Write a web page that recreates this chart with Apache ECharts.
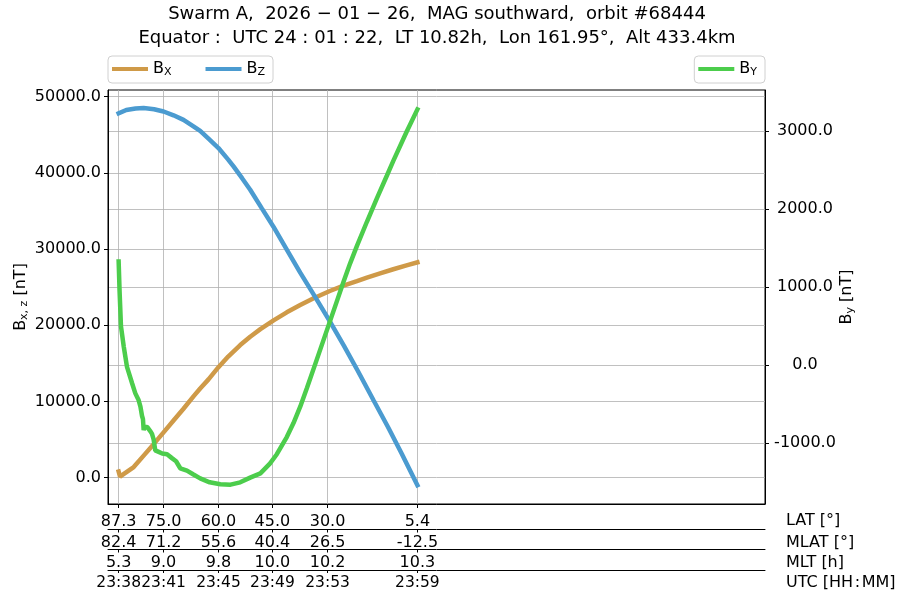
<!DOCTYPE html>
<html><head><meta charset="utf-8">
<script src="https://cdn.jsdelivr.net/npm/echarts@6/dist/echarts.min.js"></script>
<style>html,body{margin:0;padding:0;background:#fff}#c{width:900px;height:600px}</style>
</head><body><div id="c"></div>
<script>
// time axis: seconds after 23:38:00 UTC
const tickTimes = [27, 221, 458, 691, 929, 1317];
const latLabels = ['87.3', '75.0', '60.0', '45.0', '30.0', '5.4'];
const mlatLabels = ['82.4', '71.2', '55.6', '40.4', '26.5', '-12.5'];
const mltLabels = ['5.3', '9.0', '9.8', '10.0', '10.2', '10.3'];
const utcLabels = ['23:38', '23:41', '23:45', '23:49', '23:53', '23:59'];

const leftTicks = [0, 10000, 20000, 30000, 40000, 50000];
const rightTicks = [-1000, 0, 1000, 2000, 3000];

const bxTime = [27, 33, 45, 92, 135, 178, 221, 264, 307, 351, 379, 415, 458, 500, 552, 595, 639, 696, 753, 811, 869, 939, 998, 1056, 1099, 1156, 1213, 1270, 1317];
const bxVal  = [800, 150, 400, 1400, 2900, 4400, 5950, 7500, 9050, 10700, 11700, 12900, 14500, 15900, 17400, 18500, 19500, 20650, 21700, 22650, 23550, 24500, 25200, 25800, 26250, 26800, 27350, 27850, 28250];

const bzTime = [27, 60, 100, 135, 180, 221, 264, 307, 350, 379, 415, 458, 500, 523, 560, 595, 646, 696, 753, 811, 876, 939, 1000, 1060, 1127, 1190, 1250, 1317];
const bzVal  = [47800, 48250, 48450, 48500, 48350, 48050, 47550, 46950, 46100, 45500, 44480, 43250, 41740, 40840, 39300, 37790, 35300, 32900, 29930, 26900, 23700, 20500, 17300, 14000, 10200, 6650, 3100, -1000];

const byTime = [27, 31, 37, 49, 63, 85, 99, 113, 121, 128, 132, 135, 140, 150, 156, 165, 171, 178, 185, 200, 215, 236, 257, 275, 293, 322, 350, 379, 420, 466, 510, 552, 595, 639, 680, 710, 753, 782, 811, 840, 881, 939, 968, 998, 1027, 1056, 1099, 1142, 1185, 1213, 1270, 1317];
const byVal  = [1330, 950, 500, 240, -20, -230, -360, -445, -530, -650, -690, -830, -790, -790, -810, -850, -880, -950, -1090, -1110, -1130, -1140, -1190, -1230, -1320, -1350, -1400, -1450, -1500, -1525, -1530, -1500, -1440, -1385, -1260, -1140, -920, -740, -530, -290, 60, 560, 810, 1070, 1310, 1530, 1840, 2140, 2430, 2620, 2990, 3280];

const FONT = 'DejaVu Sans';
const GRIDC = '#b0b0b0';
const colors = {Bx: '#cf9a48', Bz: '#4b9bd0', By: '#4ccd4c'};
const zip = (t, v) => t.map((x, i) => [x, v[i]]);
const lab = arr => v => { const i = tickTimes.indexOf(v); return i >= 0 ? arr[i] : ''; };
const subRich = {
  b: {fontSize: 16, fontFamily: FONT, color: '#000'},
  s: {fontSize: 11, fontFamily: FONT, color: '#000', padding: [7, 0, 0, 0]}
};

function rowAxis(offset, labels, name, margin, namePad, opts) {
  opts = opts || {};
  const labelVals = opts.labelVals || tickTimes;
  return {
    type: 'value', position: 'bottom', offset: offset, min: -19, max: 2818,
    axisLine: {show: opts.line !== false, onZero: false, lineStyle: {color: '#000', width: 1}},
    axisTick: {show: opts.line !== false, customValues: tickTimes, length: offset === 0 ? 4 : 3, lineStyle: {color: '#000'}},
    axisLabel: {customValues: labelVals, formatter: lab(labels), margin: margin, fontSize: opts.fs || 16, fontFamily: FONT, color: '#000',
                showMinLabel: true, showMaxLabel: true, hideOverlap: false},
    splitLine: {show: !!opts.split, lineStyle: {color: GRIDC, width: 0.8}},
    name: name, nameLocation: 'end', nameGap: 21,
    nameTextStyle: {fontSize: 16, fontFamily: FONT, color: '#000', align: 'left', verticalAlign: 'top', padding: [namePad, 0, 0, 0]}
  };
}

const evenTicks = tickTimes.filter((t, i) => i % 2 === 0);
const oddTicks = tickTimes.filter((t, i) => i % 2 === 1);

const chart = echarts.init(document.getElementById('c'), null, {renderer: 'canvas'});
chart.setOption({
  animation: false,
  backgroundColor: '#fff',
  title: {
    text: 'Swarm A,  2026 − 01 − 26,  MAG southward,  orbit #68444\nEquator :  UTC 24 : 01 : 22,  LT 10.82h,  Lon 161.95°,  Alt 433.4km',
    left: 437, top: 2, padding: 0, textAlign: 'center',
    textStyle: {fontSize: 18, fontWeight: 'normal', fontFamily: FONT, color: '#000', lineHeight: 24, align: 'center'}
  },
  legend: [
    {data: ['Bx', 'Bz'], left: 108, top: 56, padding: [5, 8, 5, 4], itemGap: 34,
     icon: 'rect', itemWidth: 36, itemHeight: 4,
     borderColor: '#d0d0d0', borderWidth: 1, borderRadius: 4, backgroundColor: 'rgba(255,255,255,0.8)',
     formatter: n => '{b|B}{s|' + n.slice(1).toUpperCase() + '}',
     textStyle: {rich: subRich}},
    {data: ['By'], right: 135, top: 56, padding: [5, 8, 5, 4],
     icon: 'rect', itemWidth: 36, itemHeight: 4,
     borderColor: '#d0d0d0', borderWidth: 1, borderRadius: 4, backgroundColor: 'rgba(255,255,255,0.8)',
     formatter: n => '{b|B}{s|' + n.slice(1).toUpperCase() + '}',
     textStyle: {rich: subRich}}
  ],
  grid: {left: 108, right: 135, top: 90, bottom: 96, show: true, borderColor: '#000', borderWidth: 1,
         backgroundColor: 'transparent', outerBoundsMode: 'none', containLabel: false},
  xAxis: [
    rowAxis(0, latLabels, 'LAT [°]', 10, 9, {split: true}),
    rowAxis(25.5, mlatLabels, 'MLAT [°]', 5, 5),
    rowAxis(45.5, mltLabels, 'MLT [h]', 5, 5),
    rowAxis(66, utcLabels, 'UTC [HH\u200a:\u200aMM]', 5, 5, {labelVals: evenTicks, fs: 15.5}),
    rowAxis(66, utcLabels, '', 5, 5, {labelVals: oddTicks, line: false, fs: 15.5})
  ],
  yAxis: [
    {type: 'value', position: 'left', min: -3450, max: 50870,
     axisLine: {show: true, onZero: false, lineStyle: {color: '#000'}},
     axisTick: {show: true, customValues: leftTicks, length: 4, lineStyle: {color: '#000'}},
     axisLabel: {customValues: leftTicks, formatter: v => v.toFixed(1), margin: 7, fontSize: 16, fontFamily: FONT, color: '#000'},
     splitLine: {show: true, lineStyle: {color: GRIDC, width: 0.8}},
     name: '{b|B}{s|x, z} [nT]', nameLocation: 'middle', nameRotate: 90, nameGap: 78, nameMoveOverlap: false,
     nameTextStyle: {fontSize: 16, fontFamily: FONT, color: '#000', rich: subRich}},
    {type: 'value', position: 'right', min: -1778, max: 3529,
     axisLine: {show: true, onZero: false, lineStyle: {color: '#000'}},
     axisTick: {show: true, customValues: rightTicks, length: 4, lineStyle: {color: '#000'}},
     axisLabel: {customValues: rightTicks, formatter: v => v.toFixed(1), margin: 40, align: 'center', fontSize: 16, fontFamily: FONT, color: '#000'},
     splitLine: {show: true, lineStyle: {color: GRIDC, width: 0.8}},
     name: '{b|B}{s|y} [nT]', nameLocation: 'middle', nameRotate: 90, nameGap: 73, nameMoveOverlap: false,
     nameTextStyle: {fontSize: 16, fontFamily: FONT, color: '#000', rich: subRich}}
  ],
  series: [
    {type: 'line', name: 'Bx', data: zip(bxTime, bxVal), xAxisIndex: 0, yAxisIndex: 0, showSymbol: false,
     lineStyle: {width: 4.5, color: colors.Bx, cap: 'square'}, itemStyle: {color: colors.Bx}},
    {type: 'line', name: 'Bz', data: zip(bzTime, bzVal), xAxisIndex: 0, yAxisIndex: 0, showSymbol: false,
     lineStyle: {width: 4.5, color: colors.Bz, cap: 'square'}, itemStyle: {color: colors.Bz}},
    {type: 'line', name: 'By', data: zip(byTime, byVal), xAxisIndex: 0, yAxisIndex: 1, showSymbol: false,
     lineStyle: {width: 4.5, color: colors.By, cap: 'square'}, itemStyle: {color: colors.By}}
  ]
});
</script></body></html>
